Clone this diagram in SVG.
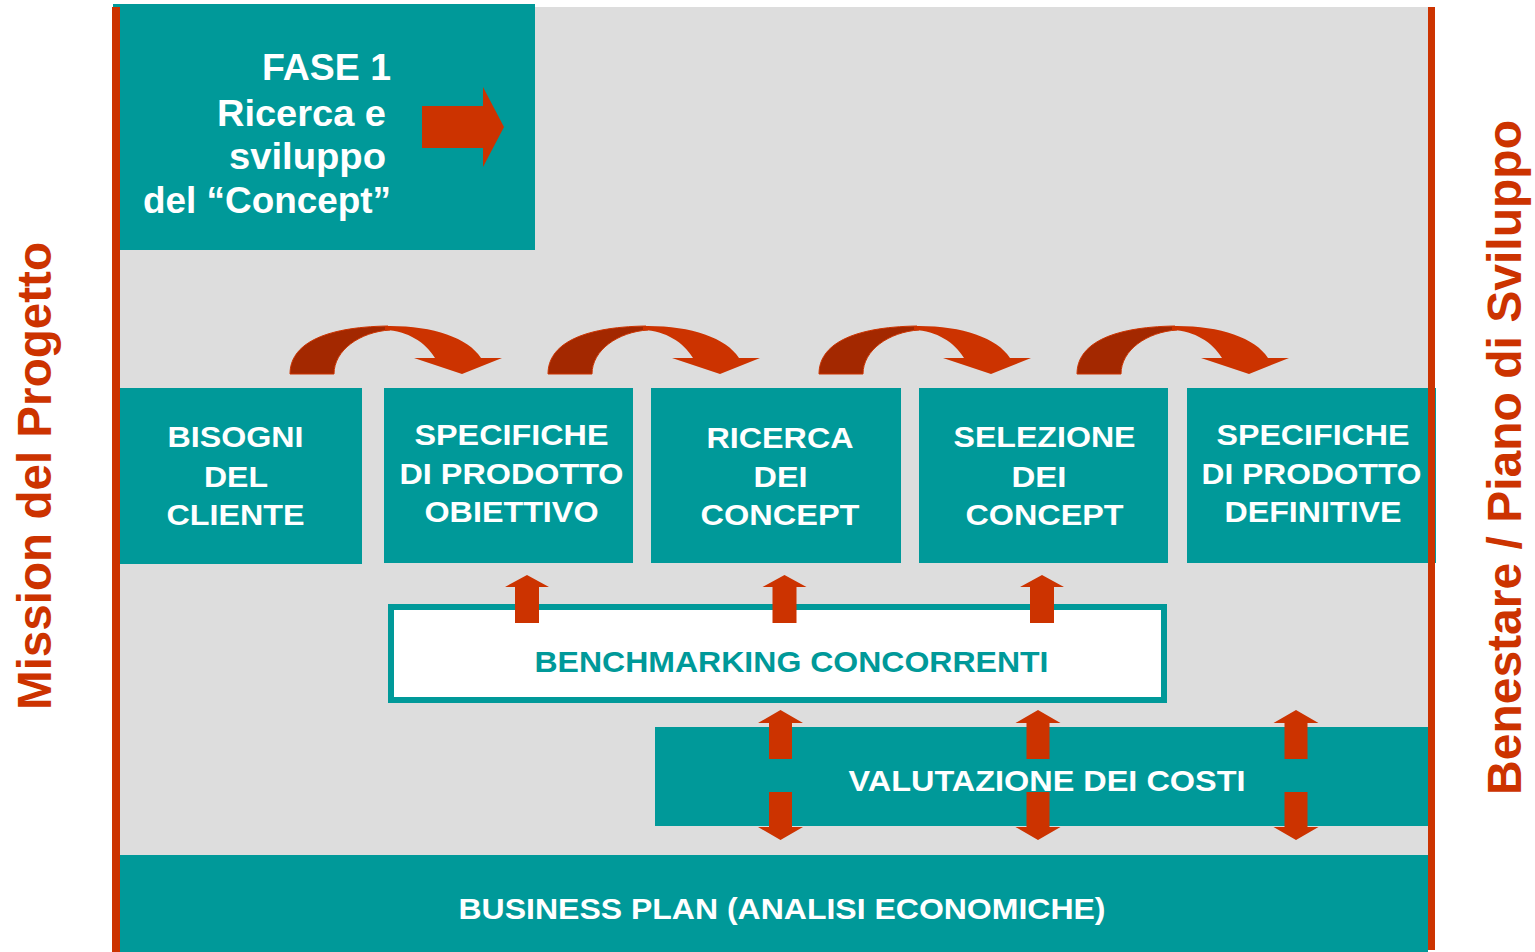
<svg xmlns="http://www.w3.org/2000/svg" xmlns:xlink="http://www.w3.org/1999/xlink" width="1535" height="952" viewBox="0 0 1535 952">
<style>
.teal{fill:#009999}
.red{fill:#CC3300}
.dark{fill:#A32800;stroke:#CC3300;stroke-width:1}
.lbl{font-family:"Liberation Sans",Arial,Helvetica,sans-serif;font-weight:bold;fill:#ffffff;text-anchor:middle}
.n{font-size:29px}
.big{font-size:30px}
.fase{font-family:"Liberation Sans",Arial,Helvetica,sans-serif;font-weight:bold;fill:#ffffff;font-size:37px;text-anchor:start}
.side{font-family:"Liberation Sans",Arial,Helvetica,sans-serif;font-weight:bold;fill:#CC3300;font-size:48px;text-anchor:middle}
</style>
<defs>
<g id="curved">
<path class="dark" d="M290,374 C290,345 322,327 388,326 L390,330 C360,332 334,350 334,374 Z"/>
<path class="red" d="M385,326 C430,325 468,337 481,358 L502,358 L462,374 L414,358 L435,358 C425,342 408,331 385,330 Z"/>
</g>
<polygon id="up" class="red" points="-12,623 -12,587 -22,587 0,575 22,587 12,587 12,623"/>
<polygon id="dup" class="red" points="-11.5,759 -11.5,723 -22.5,723 0,710 22.5,723 11.5,723 11.5,759"/>
<polygon id="ddown" class="red" points="-11.5,792 -11.5,827 -22.5,827 0,840 22.5,827 11.5,827 11.5,792"/>
</defs>
<rect x="0" y="0" width="1535" height="952" fill="#ffffff"/>
<rect x="112" y="7" width="1316" height="945" fill="#DDDDDD"/>

<g id="fase1">
<rect class="teal" x="113" y="4" width="422" height="246"/>
<text class="fase" x="262" y="80" textLength="129" lengthAdjust="spacingAndGlyphs">FASE 1</text>
<text class="fase" x="217" y="125.5" textLength="169" lengthAdjust="spacingAndGlyphs">Ricerca e</text>
<text class="fase" x="229" y="169" textLength="157" lengthAdjust="spacingAndGlyphs">sviluppo</text>
<text class="fase" x="143" y="213" textLength="248" lengthAdjust="spacingAndGlyphs">del “Concept”</text>
<path class="red" d="M422,106 L483,106 L483,87 L504,127 L483,167 L483,148 L422,148 Z"/>
</g>

<g id="node-bisogni">
<rect class="teal" x="120" y="388" width="242" height="176"/>
<text class="lbl n" x="235.5" y="447" textLength="136" lengthAdjust="spacingAndGlyphs">BISOGNI</text>
<text class="lbl n" x="236" y="487" textLength="64" lengthAdjust="spacingAndGlyphs">DEL</text>
<text class="lbl n" x="235.5" y="525" textLength="138" lengthAdjust="spacingAndGlyphs">CLIENTE</text>
</g>
<g id="node-spec-obiettivo">
<rect class="teal" x="384" y="388" width="249" height="175"/>
<text class="lbl n" x="511.5" y="445" textLength="194" lengthAdjust="spacingAndGlyphs">SPECIFICHE</text>
<text class="lbl n" x="511.5" y="483.5" textLength="224" lengthAdjust="spacingAndGlyphs">DI PRODOTTO</text>
<text class="lbl n" x="511.5" y="522" textLength="174" lengthAdjust="spacingAndGlyphs">OBIETTIVO</text>
</g>
<g id="node-ricerca">
<rect class="teal" x="651" y="388" width="250" height="175"/>
<text class="lbl n" x="780" y="448" textLength="147" lengthAdjust="spacingAndGlyphs">RICERCA</text>
<text class="lbl n" x="780.5" y="487" textLength="54" lengthAdjust="spacingAndGlyphs">DEI</text>
<text class="lbl n" x="780" y="525" textLength="159" lengthAdjust="spacingAndGlyphs">CONCEPT</text>
</g>
<g id="node-selezione">
<rect class="teal" x="919" y="388" width="249" height="175"/>
<text class="lbl n" x="1044.5" y="447" textLength="182" lengthAdjust="spacingAndGlyphs">SELEZIONE</text>
<text class="lbl n" x="1039" y="487" textLength="55" lengthAdjust="spacingAndGlyphs">DEI</text>
<text class="lbl n" x="1044.5" y="525" textLength="158" lengthAdjust="spacingAndGlyphs">CONCEPT</text>
</g>
<g id="node-spec-definitive">
<rect class="teal" x="1187" y="388" width="249" height="175"/>
<text class="lbl n" x="1313" y="445" textLength="193" lengthAdjust="spacingAndGlyphs">SPECIFICHE</text>
<text class="lbl n" x="1311.5" y="483.5" textLength="220" lengthAdjust="spacingAndGlyphs">DI PRODOTTO</text>
<text class="lbl n" x="1313" y="522" textLength="177" lengthAdjust="spacingAndGlyphs">DEFINITIVE</text>
</g>

<g id="benchmarking">
<rect x="391" y="607" width="773" height="93" fill="#ffffff" stroke="#009999" stroke-width="6"/>
<text class="lbl big" style="fill:#009999" x="791.5" y="672" textLength="514" lengthAdjust="spacingAndGlyphs">BENCHMARKING CONCORRENTI</text>
</g>
<g id="valutazione">
<rect class="teal" x="655" y="727" width="773" height="99"/>
<text class="lbl big" x="1047" y="791" textLength="397" lengthAdjust="spacingAndGlyphs">VALUTAZIONE DEI COSTI</text>
</g>
<g id="business-plan">
<rect class="teal" x="120" y="855" width="1308" height="97"/>
<text class="lbl big" x="782" y="919" textLength="647" lengthAdjust="spacingAndGlyphs">BUSINESS PLAN (ANALISI ECONOMICHE)</text>
</g>

<g id="side-bars">
<rect class="red" x="112" y="7" width="8" height="945"/>
<rect class="red" x="1428" y="7" width="7" height="943"/>
</g>

<g id="connectors">
<use xlink:href="#curved"/>
<use xlink:href="#curved" transform="translate(258,0)"/>
<use xlink:href="#curved" transform="translate(529,0)"/>
<use xlink:href="#curved" transform="translate(787,0)"/>
<use xlink:href="#up" transform="translate(527,0)"/>
<use xlink:href="#up" transform="translate(784.5,0)"/>
<use xlink:href="#up" transform="translate(1042,0)"/>
<use xlink:href="#dup" transform="translate(780.5,0)"/>
<use xlink:href="#ddown" transform="translate(780.5,0)"/>
<use xlink:href="#dup" transform="translate(1038,0)"/>
<use xlink:href="#ddown" transform="translate(1038,0)"/>
<use xlink:href="#dup" transform="translate(1296,0)"/>
<use xlink:href="#ddown" transform="translate(1296,0)"/>
</g>

<g id="side-labels">
<text class="side" transform="translate(51,476) rotate(-90)" x="0" y="0" textLength="468" lengthAdjust="spacingAndGlyphs">Mission del Progetto</text>
<text class="side" transform="translate(1521,457.5) rotate(-90)" x="0" y="0" textLength="675" lengthAdjust="spacingAndGlyphs">Benestare / Piano di Sviluppo</text>
</g>
</svg>
